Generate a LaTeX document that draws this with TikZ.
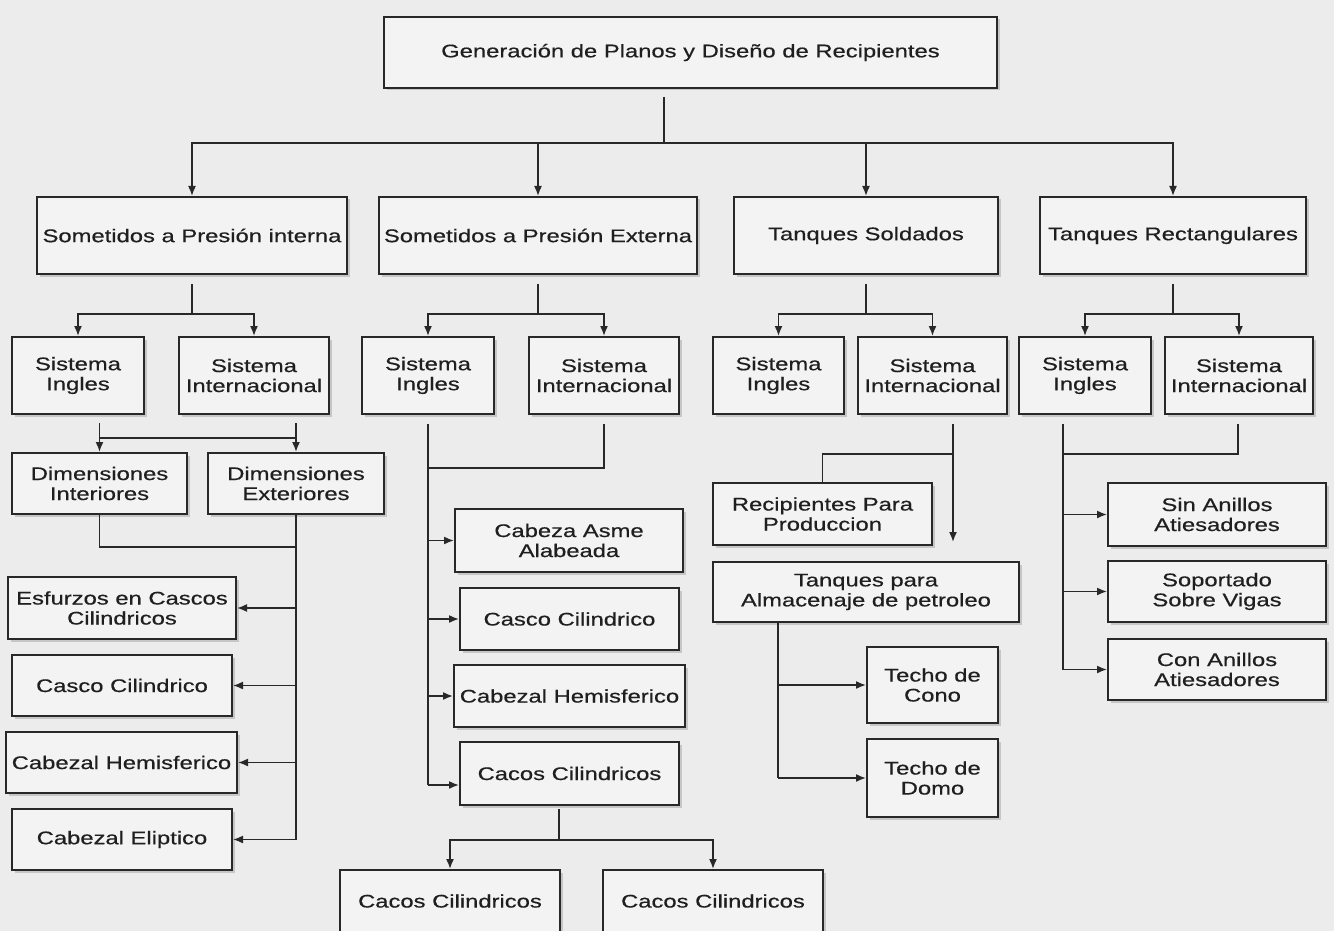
\documentclass[tikz,border=0pt]{standalone}
\usepackage{fontspec}
\setmainfont{Liberation Sans}[FakeStretch=1.3,FakeBold=0.5]
\usetikzlibrary{arrows.meta,shadows,calc}
\definecolor{bg}{RGB}{236,236,236}
\definecolor{boxfill}{RGB}{243,243,243}
\definecolor{ink}{RGB}{40,40,40}
\tikzset{
  box/.style={draw=ink, line width=2pt, fill=boxfill, inner sep=0pt, align=center,
    font=\fontsize{18.3}{20}\selectfont, text=black!88,
    drop shadow={opacity=0.35, shadow xshift=2.5pt, shadow yshift=-2.5pt}},
  conn/.style={draw=ink, line width=1.6pt},
  arr/.style={conn, -{Latex[length=10pt,width=8pt]}},
}
\newcommand\mybox[6]{\node[box, minimum width={(#4-#2)*1pt}, minimum height={(#5-#3)*1pt}] (#1) at ({(#2+#4)/2},{(#3+#5)/2}) {#6};}
\begin{document}
\begin{tikzpicture}[x=1pt,y=-1pt]
\useasboundingbox (0,0) rectangle (1334,931);
\clip (0,0) rectangle (1334,931);
\fill[bg] (0,0) rectangle (1334,931);

% boxes
\mybox{title}{384}{17}{997}{88}{\raisebox{2.5pt}{Generación de Planos y Diseño de Recipientes}}
\mybox{A1}{37}{197}{347}{274}{Sometidos a Presión interna}
\mybox{A2}{379}{197}{697}{274}{Sometidos a Presión Externa}
\mybox{A3}{734}{197}{998}{274}{Tanques Soldados}
\mybox{A4}{1040}{197}{1306}{274}{Tanques Rectangulares}

\mybox{B1}{12}{337}{144}{414}{Sistema\\Ingles}
\mybox{B2}{179}{337}{329}{414}{Sistema\\Internacional}
\mybox{B3}{362}{337}{494}{414}{Sistema\\Ingles}
\mybox{B4}{529}{337}{679}{414}{Sistema\\Internacional}
\mybox{B5}{713}{337}{844}{414}{Sistema\\Ingles}
\mybox{B6}{858}{337}{1007}{414}{Sistema\\Internacional}
\mybox{B7}{1019}{337}{1151}{414}{Sistema\\Ingles}
\mybox{B8}{1165}{337}{1313}{414}{Sistema\\Internacional}

\mybox{C1}{12}{453}{187}{514}{Dimensiones\\Interiores}
\mybox{C2}{208}{453}{384}{514}{Dimensiones\\Exteriores}

\mybox{D1}{8}{577}{236}{639}{Esfurzos en Cascos\\Cilindricos}
\mybox{D2}{12}{655}{232}{716}{Casco Cilindrico}
\mybox{D3}{6}{732}{237}{793}{Cabezal Hemisferico}
\mybox{D4}{12}{809}{232}{870}{Cabezal Eliptico}

\mybox{E1}{455}{509}{683}{572}{Cabeza Asme\\Alabeada}
\mybox{E2}{460}{588}{679}{650}{Casco Cilindrico}
\mybox{E3}{454}{665}{685}{727}{Cabezal Hemisferico}
\mybox{E4}{460}{742}{679}{805}{Cacos Cilindricos}

\mybox{F1}{340}{870}{560}{932}{Cacos Cilindricos}
\mybox{F2}{603}{870}{823}{932}{Cacos Cilindricos}

\mybox{G1}{713}{483}{932}{545}{Recipientes Para\\Produccion}
\mybox{G2}{713}{562}{1019}{622}{Tanques para\\Almacenaje de petroleo}

\mybox{H1}{867}{647}{998}{723}{Techo de\\Cono}
\mybox{H2}{867}{739}{998}{817}{Techo de\\Domo}

\mybox{I1}{1108}{483}{1326}{546}{Sin Anillos\\Atiesadores}
\mybox{I2}{1108}{561}{1326}{622}{Soportado\\Sobre Vigas}
\mybox{I3}{1108}{639}{1326}{700}{Con Anillos\\Atiesadores}

% top level connectors
\coordinate (bus0) at (664,143);
\coordinate (t0) at ($(title.south)+(-26.5,8)$);
\draw[conn] (t0) -- (bus0);
\draw[arr] (bus0) -| (A1.north);
\draw[arr] (bus0) -| (A2.north);
\draw[arr] (bus0) -| (A3.north);
\draw[arr] (bus0) -| (A4.north);

% level 2 -> level 3
\foreach \a/\l/\r in {A1/B1/B2, A2/B3/B4, A3/B5/B6, A4/B7/B8}{
  \coordinate (s\a) at ($(\a.south)+(0,9)$);
  \coordinate (b\a) at ($(\a.south)+(0,39)$);
  \draw[conn] (s\a) -- (b\a);
  \draw[arr] (b\a) -| (\l.north);
  \draw[arr] (b\a) -| (\r.north);
}

% Sistema (interna) -> Dimensiones
\coordinate (c1s) at ($(B1.south -| C1.north)+(0,8)$);
\coordinate (c2s) at ($(B2.south -| C2.north)+(0,8)$);
\draw[arr] (c1s) -- (C1.north);
\draw[arr] (c2s) -- (C2.north);
\coordinate (cbus) at ($(B1.south)+(0,23)$);
\draw[conn] (cbus -| C1.north) -- (cbus -| C2.north);

% Dimensiones -> left column
\coordinate (dbus) at ($(C2.south)+(0,32)$);
\draw[conn] (C1.south) |- (dbus);
\coordinate (dend) at (C2.south |- D4.east);
\draw[conn] (C2.south) -- (dend);
\draw[arr] (C2.south |- D1.east) -- (D1.east);
\draw[arr] (C2.south |- D2.east) -- (D2.east);
\draw[arr] (C2.south |- D3.east) -- (D3.east);
\draw[arr] (dend) -- (D4.east);

% Sistema (externa) -> middle column
\coordinate (e4in) at ($(E4.west)+(0,11.5)$);
\coordinate (eT) at ($(B3.south)+(0,9)$);
\draw[conn] (eT) -- (eT |- e4in);
\draw[conn] ($(B4.south)+(0,9)$) |- ($(B3.south)+(0,53)$);
\draw[arr] (eT |- E1.west) -- (E1.west);
\draw[arr] (eT |- E2.west) -- (E2.west);
\draw[arr] (eT |- E3.west) -- (E3.west);
\draw[arr] (eT |- e4in) -- (e4in);

% Cacos Cilindricos -> bottom
\coordinate (fbus) at ($(E4.south)+(-10.5,34)$);
\draw[conn] ($(E4.south)+(-10.5,3)$) -- (fbus);
\draw[arr] (fbus) -| (F1.north);
\draw[arr] (fbus) -| (F2.north);

% Soldados Internacional -> Recipientes / Tanques
\coordinate (gT) at ($(B6.south)+(20.5,9)$);
\coordinate (g2tip) at ($(G2.north)+(87,-19)$);
\draw[arr] (gT) -- (g2tip);
\draw[conn] ($(B6.south)+(20.5,39)$) -| (G1.north);

% Tanques para Almacenaje -> Techos
\coordinate (hT) at ($(G2.south)+(-88,0)$);
\draw[conn] (hT) -- (hT |- H2.west);
\draw[arr] (hT |- H1.west) -- (H1.west);
\draw[arr] (hT |- H2.west) -- (H2.west);

% Rectangulares -> Anillos
\coordinate (iT) at ($(B7.south)+(-22,9)$);
\draw[conn] (iT) -- (iT |- I3.west);
\draw[conn] ($(B8.south)+(-1,9)$) |- ($(iT)+(0,30)$);
\draw[arr] (iT |- I1.west) -- (I1.west);
\draw[arr] (iT |- I2.west) -- (I2.west);
\draw[arr] (iT |- I3.west) -- (I3.west);
\end{tikzpicture}
\end{document}
